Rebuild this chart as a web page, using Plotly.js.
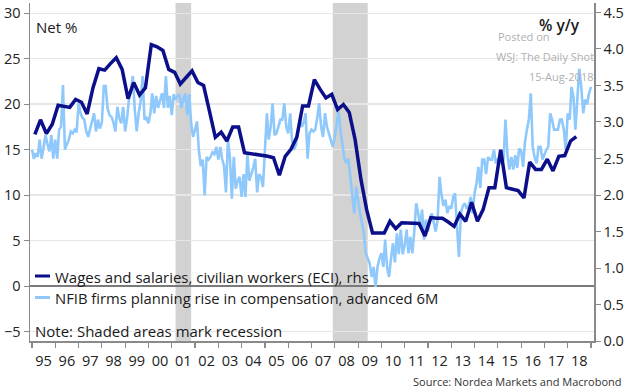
<!DOCTYPE html>
<html>
<head>
<meta charset="utf-8">
<script src="https://cdn.plot.ly/plotly-3.0.1.min.js"></script>
<style>html,body{margin:0;padding:0;background:#fff;}#chart{width:630px;height:388px;}</style>
</head>
<body>
<div id="chart"></div>
<script>
// ---- Data ----
// Wages and salaries, civilian workers (ECI), % y/y, quarterly from 1995Q1 (right axis)
const eciStart = [1995, 2, 15];
const eciValues = [
  2.83, 3.03, 2.84, 2.97, 3.23, 3.21, 3.20, 3.31, 3.27, 3.11, 3.47, 3.73,
  3.71, 3.80, 3.88, 3.72, 3.32, 3.54, 3.37, 3.47, 4.06, 4.03, 3.98, 3.72,
  3.68, 3.52, 3.61, 3.70, 3.54, 3.50, 3.15, 2.79, 2.86, 2.74, 2.93, 2.93,
  2.58, 2.57, 2.56, 2.54, 2.53, 2.51, 2.27, 2.53, 2.63, 2.79, 3.22, 3.22,
  3.58, 3.45, 3.33, 3.38, 3.17, 3.24, 3.13, 2.76, 2.21, 1.80, 1.48, 1.48,
  1.48, 1.64, 1.54, 1.62, 1.62, 1.61, 1.61, 1.44, 1.69, 1.68, 1.68, 1.63,
  1.57, 1.74, 1.64, 1.90, 1.64, 1.80, 2.10, 2.10, 2.62, 2.10, 2.08, 2.06,
  1.96, 2.45, 2.35, 2.35, 2.49, 2.33, 2.53, 2.54, 2.74, 2.80
];
// NFIB firms planning rise in compensation, advanced 6M, net %, monthly from Jan 1995 (left axis)
const nfibStart = [1995, 1, 1];
const nfibValues = [
  15.0, 14.0, 14.6, 14.2, 16.1, 14.0, 15.2, 16.6, 15.6, 14.8, 16.6, 14.0, // 1995
  16.1, 14.0, 17.2, 17.5, 22.1, 15.0, 15.6, 16.1, 17.0, 16.8, 17.2, 16.9, // 1996
  20.1, 19.0, 18.5, 18.3, 17.0, 16.4, 17.3, 18.2, 19.0, 17.0, 18.3, 17.3, // 1997
  18.0, 22.0, 22.0, 19.5, 18.8, 18.6, 18.0, 17.0, 19.7, 18.5, 17.9, 19.7, // 1998
  17.0, 18.5, 20.5, 21.5, 23.1, 19.4, 17.0, 19.0, 20.3, 23.1, 18.3, 18.5, // 1999
  17.9, 19.0, 21.2, 19.0, 20.9, 19.6, 20.5, 21.2, 19.6, 23.1, 19.6, 20.9, // 2000
  18.8, 21.1, 20.5, 20.9, 21.1, 19.6, 20.5, 21.2, 18.8, 21.1, 17.9, 16.4, // 2001
  17.2, 18.1, 15.0, 13.2, 13.9, 10.0, 14.2, 13.9, 14.2, 14.7, 14.5, 15.3, // 2002
  13.9, 15.3, 14.0, 13.2, 10.3, 16.1, 14.2, 9.6, 14.2, 10.7, 11.6, 12.0,  // 2003
  9.8, 12.3, 9.8, 14.5, 11.6, 12.3, 13.0, 14.0, 10.3, 12.3, 12.0, 10.9,   // 2004
  15.7, 19.0, 16.1, 17.5, 20.1, 16.6, 16.8, 17.5, 18.3, 18.3, 20.1, 17.5, // 2005
  16.8, 19.0, 16.1, 15.0, 15.5, 16.8, 18.3, 17.5, 18.0, 19.0, 14.0, 16.8, // 2006
  17.2, 17.0, 17.2, 18.5, 20.1, 17.5, 16.4, 19.0, 17.5, 16.8, 16.0, 15.3, // 2007
  16.4, 17.8, 19.2, 17.0, 15.3, 14.0, 13.5, 14.0, 12.0, 10.0, 8.0, 10.9,  // 2008
  9.3, 8.0, 7.0, 5.8, 3.6, 3.0, 2.5, 1.0, 2.1, -0.1, 2.1, 3.0,            // 2009
  3.6, 2.1, 5.1, 2.0, 1.0, 3.0, 4.7, 2.6, 5.8, 3.5, 6.2, 3.5,             // 2010
  4.5, 6.2, 3.6, 5.4, 3.6, 6.0, 9.1, 8.0, 6.5, 8.4, 5.1, 7.3,             // 2011
  6.0, 7.3, 8.0, 7.0, 6.0, 7.3, 12.0, 10.0, 8.8, 9.5, 8.0, 8.8,           // 2012
  8.5, 9.8, 10.2, 6.5, 3.2, 8.0, 8.8, 9.1, 8.5, 8.8, 9.8, 8.0,            // 2013
  10.2, 11.3, 13.1, 10.8, 13.9, 13.9, 12.3, 14.2, 13.9, 13.9, 15.0, 13.5, // 2014
  13.9, 13.7, 13.5, 13.9, 18.3, 14.4, 12.8, 14.2, 12.8, 14.4, 13.0, 15.1, // 2015
  14.9, 13.1, 15.8, 17.2, 18.3, 21.2, 15.3, 14.1, 13.5, 15.3, 15.3, 13.9, // 2016
  14.5, 15.0, 15.3, 19.0, 18.3, 17.2, 17.2, 17.2, 18.3, 18.3, 17.2, 15.0, // 2017
  19.0, 18.3, 21.9, 20.8, 17.2, 20.5, 23.9, 21.9, 19.0, 20.5, 20.0, 21.2, // 2018
  21.9                                                                    // Jan 2019
];
const recessionStarts = ['2001-03-01', '2007-12-01'];
const recessionEnds   = ['2001-11-01', '2009-06-01'];
const yearLabels = ['95','96','97','98','99','00','01','02','03','04','05','06',
                    '07','08','09','10','11','12','13','14','15','16','17','18'];
const eciName  = 'Wages and salaries, civilian workers (ECI), rhs';
const nfibName = 'NFIB firms planning rise in compensation, advanced 6M';

// ---- helpers ----
function pad(n){ return (n < 10 ? '0' : '') + n; }
function dateSeries(start, n, stepMonths){
  const out = [];
  for (let i = 0; i < n; i++) {
    const t = (start[0] * 12 + (start[1] - 1)) + i * stepMonths;
    const y = Math.floor(t / 12), m = t % 12 + 1;
    out.push(y + '-' + pad(m) + '-' + pad(start[2]));
  }
  return out;
}
const eciDates  = dateSeries(eciStart, eciValues.length, 3);
const nfibDates = dateSeries(nfibStart, nfibValues.length, 1);
const tickVals = yearLabels.map(l => (parseInt(l, 10) > 50 ? '19' : '20') + l + '-07-02');

// plot area in pixels: x 30..594, y 3..341
const fx = px => (px - 30) / 564;
const fy = py => (341 - py) / 338;

const DARK = '#0b0f8a';
const LIGHT = '#8fc8fb';
const FONT = 'Open Sans, Arial, sans-serif';

const traces = [
  { x: nfibDates, y: nfibValues, type: 'scatter', mode: 'lines', name: nfibName,
    line: { color: LIGHT, width: 2.6 }, yaxis: 'y', hoverinfo: 'skip' },
  { x: eciDates, y: eciValues, type: 'scatter', mode: 'lines', name: eciName,
    line: { color: DARK, width: 3.5 }, yaxis: 'y2', hoverinfo: 'skip' }
];

const shapes = recessionStarts.map((s, i) => ({
  type: 'rect', xref: 'x', yref: 'paper', x0: s, x1: recessionEnds[i], y0: 0, y1: 1,
  fillcolor: '#d2d2d2', line: { width: 0 }, layer: 'between'
}));
// legend line samples
shapes.push({ type: 'line', xref: 'paper', yref: 'paper', x0: fx(35), x1: fx(50), y0: fy(276), y1: fy(276),
  line: { color: DARK, width: 3 } });
shapes.push({ type: 'line', xref: 'paper', yref: 'paper', x0: fx(35), x1: fx(50), y0: fy(297.5), y1: fy(297.5),
  line: { color: LIGHT, width: 3 } });

const ann = (text, px, py, xanchor, size, color, extra) => Object.assign({
  text: text, xref: 'paper', yref: 'paper', x: fx(px), y: fy(py), xanchor: xanchor, yanchor: 'middle',
  showarrow: false, font: { family: FONT, size: size, color: color }
}, extra || {});

const annotations = [
  ann('Net %', 34, 27, 'left', 15, '#1a1a1a'),
  ann('% y/y', 582, 25, 'right', 15.5, '#1a1a1a', { font: { family: FONT, size: 15.5, color: '#1a1a1a', weight: 600 } }),
  ann('Posted on', 496, 36, 'left', 11, '#b0b0b0'),
  ann('WSJ: The Daily Shot', 596, 56, 'right', 11, '#b0b0b0'),
  ann('15-Aug-2018', 596, 76, 'right', 11, '#b0b0b0'),
  ann(eciName, 53, 276.5, 'left', 15, '#1a1a1a'),
  ann(nfibName, 53, 298, 'left', 14.8, '#1a1a1a'),
  ann('Note: Shaded areas mark recession', 33, 331, 'left', 15, '#1a1a1a'),
  ann('Source: Nordea Markets and Macrobond', 624, 381, 'right', 11, '#333333')
];

const layout = {
  width: 630, height: 388,
  margin: { l: 30, r: 36, t: 3, b: 47, pad: 0 },
  paper_bgcolor: '#ffffff', plot_bgcolor: '#ffffff',
  showlegend: false,
  font: { family: FONT, size: 14, color: '#222222' },
  xaxis: {
    type: 'date', range: ['1994-12-01', '2019-02-17'],
    tickmode: 'array', tickvals: tickVals, ticktext: yearLabels, ticks: '',
    ticklabelstandoff: 6,
    tickfont: { family: FONT, size: 14.5, color: '#222' },
    showline: true, linecolor: '#8a8a8a', linewidth: 1.5, showgrid: false, zeroline: false,
    minor: { tick0: '1995-01-01', dtick: 'M12', ticks: 'outside', ticklen: 5, tickcolor: '#8a8a8a', tickwidth: 1.2, showgrid: false }
  },
  yaxis: {
    range: [-6.05, 31.13], tick0: 0, dtick: 5, ticks: 'outside', ticklen: 5, tickcolor: '#8a8a8a',
    showline: true, linecolor: '#8a8a8a', linewidth: 1.5,
    showgrid: true, gridcolor: '#e6e6e6', gridwidth: 1.5,
    zeroline: true, zerolinecolor: '#7a7a7a', zerolinewidth: 1.2,
    tickfont: { family: FONT, size: 14.5, color: '#222' }
  },
  yaxis2: {
    overlaying: 'y', side: 'right', range: [0, 4.63], tick0: 0, dtick: 0.5, tickformat: '.1f',
    ticks: 'outside', ticklen: 5, tickcolor: '#8a8a8a',
    showline: true, linecolor: '#8a8a8a', linewidth: 1.5, showgrid: false, zeroline: false,
    tickfont: { family: FONT, size: 14.5, color: '#222' }
  },
  shapes: shapes,
  annotations: annotations
};

Plotly.newPlot('chart', traces, layout, { staticPlot: true, displayModeBar: false });
</script>
</body>
</html>
